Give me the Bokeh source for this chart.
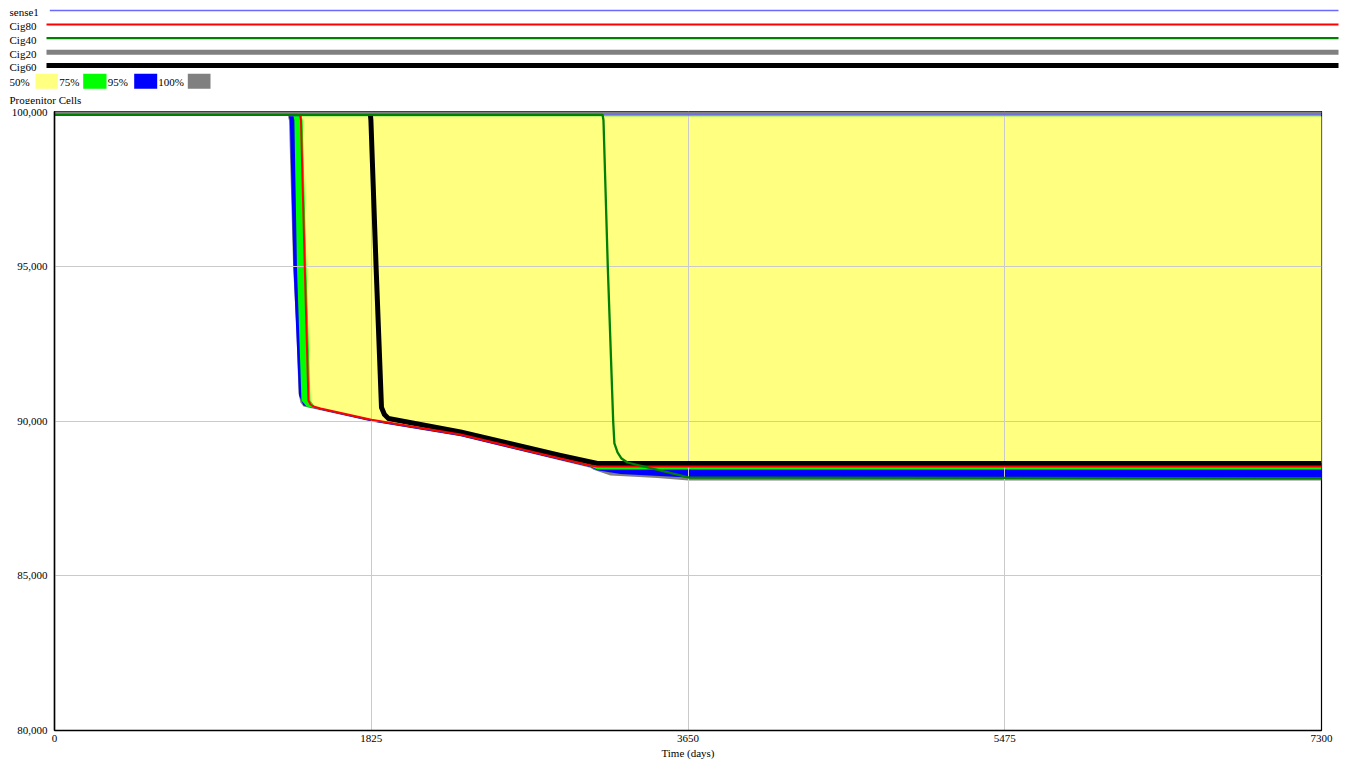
from bokeh.plotting import figure
from bokeh.models import Range1d, FixedTicker, NumeralTickFormatter
from bokeh.layouts import column
from bokeh.core.properties import value
from bokeh.embed import file_html
from bokeh.resources import INLINE

FONT = "Liberation Serif"

# ---------------- data ----------------
SERIES_NAMES = ["sense1", "Cig80", "Cig40", "Cig20", "Cig60"]
BAND_LABELS = ["50%", "75%", "95%", "100%"]

X_TICKS = [0, 1825, 3650, 5475, 7300]
Y_TICKS = [80000, 85000, 90000, 95000, 100000]

# individual runs (time in days, progenitor cells)
t_sense1 = [0, 7300]
v_sense1 = [99920, 99920]

t_cig20 = [0, 7300]
v_cig20 = [100000, 100000]

t_cig80 = [0, 1415, 1420, 1442, 1463, 1475, 1492, 1533, 1826, 2339, 2915, 3088, 3128, 7300]
v_cig80 = [99920, 99920, 99750, 94983, 90679, 90550, 90485, 90420, 90055, 89579, 88802, 88576, 88545, 88545]

t_cig60 = [0, 1819, 1823, 1853, 1884, 1901, 1924, 2339, 2915, 3088, 3128, 7300]
v_cig60 = [100000, 100000, 99750, 94983, 90453, 90226, 90097, 89660, 88900, 88690, 88640, 88640]

t_cig40 = [0, 3158, 3163, 3188, 3219, 3226, 3244, 3267, 3301, 3653, 7300]
v_cig40 = [99920, 99920, 99750, 94983, 90000, 89288, 88997, 88802, 88673, 88188, 88160]

# sensitivity bands: common upper edge and lower edges
BAND_TOP = 99880

t_b100 = [0, 1345, 1351, 1375, 1394, 1406, 1417, 1435, 1533, 1826, 2339, 2915, 3088, 3106, 3203, 3474, 3653, 7300]
lo_b100 = [99880, 99880, 99740, 94983, 92945, 90906, 90615, 90485, 90360, 90000, 89520, 88740, 88500, 88440, 88252, 88171, 88090, 88090]

t_b95 = [0, 1350, 1356, 1377, 1409, 1435, 1533, 1826, 2339, 2915, 3088, 3128, 3261, 3653, 7300]
lo_b95 = [99880, 99880, 99740, 94983, 90841, 90518, 90380, 90010, 89530, 88755, 88530, 88420, 88300, 88190, 88190]

t_b75 = [0, 1377, 1382, 1397, 1423, 1452, 1533, 1826, 2339, 2915, 3088, 3128, 7300]
lo_b75 = [99880, 99880, 99740, 94983, 90679, 90485, 90400, 90035, 89555, 88780, 88545, 88450, 88450]

t_b50 = [0, 1425, 1430, 1452, 1475, 1504, 1533, 1826, 2339, 2915, 3088, 3128, 7300]
lo_b50 = [99880, 99880, 99740, 94983, 90679, 90453, 90430, 90070, 89590, 88815, 88660, 88660, 88660]

# ---------------- styles ----------------
SERIES_COLORS = {"sense1": "#6a6aff", "Cig80": "#ff0000", "Cig40": "#008000",
                 "Cig20": "#808080", "Cig60": "#000000"}
SERIES_WIDTHS = {"sense1": 1.5, "Cig80": 2, "Cig40": 2.3, "Cig20": 5, "Cig60": 5}
BAND_COLORS = {"50%": "#ffff80", "75%": "#00ff00", "95%": "#0000ff", "100%": "#808080"}

W = 1340
HEAD_H = 104

# ---------------- header (legend) ----------------
h = figure(width=W, height=HEAD_H, x_range=Range1d(0, W), y_range=Range1d(HEAD_H, 0),
           output_backend="svg", toolbar_location=None, min_border=0,
           x_axis_type=None, y_axis_type=None)
h.frame_align = False
h.grid.visible = False
h.outline_line_color = None

row_line_y = [10, 24, 37.7, 51.7, 65]
row_line_x0 = [49.3, 46, 46, 46, 46]
for name, ly, lx0 in zip(SERIES_NAMES, row_line_y, row_line_x0):
    h.line(x=[lx0, 1338], y=[ly, ly], line_color=SERIES_COLORS[name],
           line_width=SERIES_WIDTHS[name])
    h.text(x=[9], y=[ly + 1.6], text=[name], text_font=value(FONT),
           text_font_size="11px", text_baseline="middle", text_align="left",
           text_color="black")

band_text_x = [9, 58.7, 107.3, 157.7]
band_sw_x0 = [35, 82.7, 133.7, 187.3]
band_sw_x1 = [57.3, 106, 156.7, 210]
for lab, tx, sx0, sx1 in zip(BAND_LABELS, band_text_x, band_sw_x0, band_sw_x1):
    h.quad(left=[sx0], right=[sx1], top=[73.3], bottom=[88.3],
           fill_color=BAND_COLORS[lab], line_color=None)
    h.text(x=[tx], y=[81], text=[lab], text_font=value(FONT),
           text_font_size="11px", text_baseline="middle", text_align="left",
           text_color="black")

h.text(x=[9], y=[99], text=["Progenitor Cells"], text_font=value(FONT),
       text_font_size="11px", text_baseline="middle", text_align="left",
       text_color="black")

# ---------------- main plot ----------------
p = figure(width=W, height=662, x_range=Range1d(0, 7300), y_range=Range1d(80000, 100032),
           output_backend="svg", toolbar_location=None,
           min_border_left=54, min_border_right=19, min_border_top=7, min_border_bottom=36)
p.frame_align = False
p.background_fill_color = "white"
p.outline_line_color = "black"
p.outline_line_width = 1.2

for t, lo, lab in [(t_b100, lo_b100, "100%"), (t_b95, lo_b95, "95%"),
                   (t_b75, lo_b75, "75%"), (t_b50, lo_b50, "50%")]:
    p.varea(x=t, y1=lo, y2=[BAND_TOP] * len(t), fill_color=BAND_COLORS[lab],
            level="image")

p.xgrid.ticker = FixedTicker(ticks=X_TICKS)
p.ygrid.ticker = FixedTicker(ticks=Y_TICKS)
p.grid.grid_line_color = "#cacaca"
p.grid.grid_line_width = 1

runs = {"sense1": (t_sense1, v_sense1), "Cig80": (t_cig80, v_cig80),
        "Cig40": (t_cig40, v_cig40), "Cig20": (t_cig20, v_cig20),
        "Cig60": (t_cig60, v_cig60)}
for name in ["Cig60", "Cig20", "sense1", "Cig80", "Cig40"]:
    t, v = runs[name]
    p.line(x=t, y=v, line_color=SERIES_COLORS[name], line_width=SERIES_WIDTHS[name],
           line_join="round")

p.xaxis.ticker = FixedTicker(ticks=X_TICKS)
p.yaxis.ticker = FixedTicker(ticks=Y_TICKS)
p.yaxis.formatter = NumeralTickFormatter(format="0,0")
p.xaxis.axis_label = "Time (days)"
for ax in (p.xaxis, p.yaxis):
    ax.major_tick_in = 0
    ax.major_tick_out = 0
    ax.minor_tick_line_color = None
    ax.axis_line_color = "black"
    ax.axis_line_width = 1.5
    ax.major_label_text_font = FONT
    ax.major_label_text_font_size = "11px"
    ax.major_label_text_color = "black"
    ax.axis_label_text_font = FONT
    ax.axis_label_text_font_size = "11px"
    ax.axis_label_text_font_style = "normal"
    ax.axis_label_text_color = "black"
p.yaxis.major_label_standoff = 7
p.xaxis.major_label_standoff = 4
p.xaxis.axis_label_standoff = 2

layout = column(h, p, spacing=0)
open("out.html", "w").write(file_html(layout, INLINE))
